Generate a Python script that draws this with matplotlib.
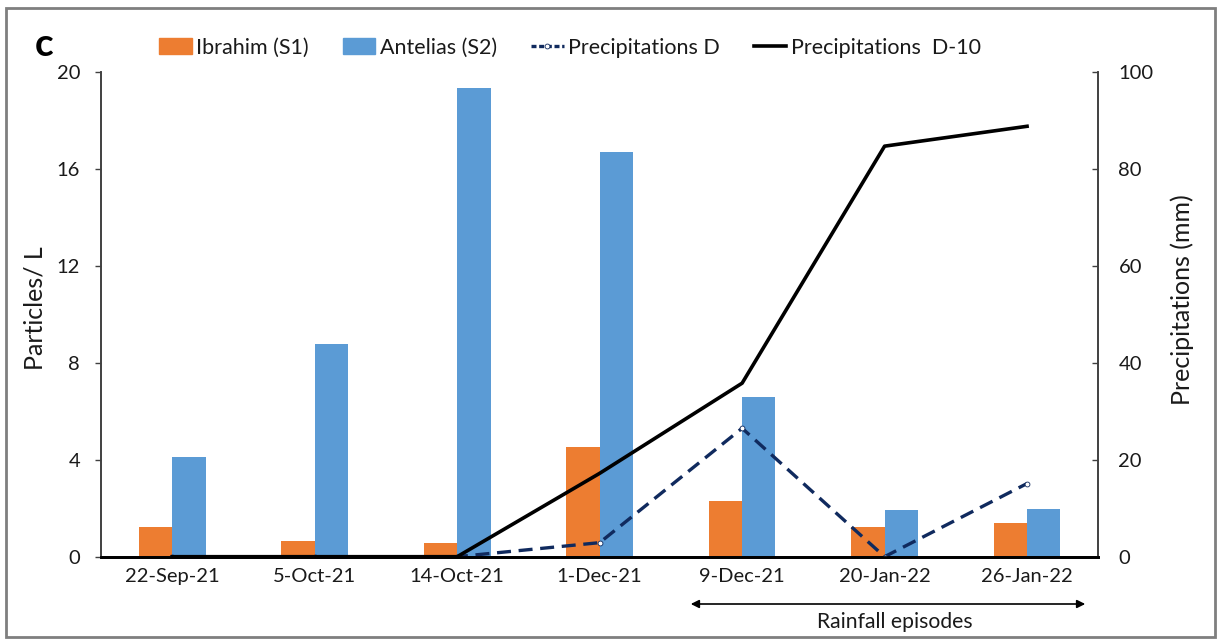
import matplotlib
matplotlib.use("Agg")
import matplotlib.pyplot as plt
from matplotlib.lines import Line2D
from matplotlib.patches import Patch, Rectangle, FancyArrowPatch
import numpy as np

plt.rcParams['font.family'] = ['Lato', 'DejaVu Sans']

dates = ["22-Sep-21", "5-Oct-21", "14-Oct-21", "1-Dec-21", "9-Dec-21", "20-Jan-22", "26-Jan-22"]
ibrahim_s1 = [1.21, 0.66, 0.55, 4.54, 2.31, 1.24, 1.40]
antelias_s2 = [4.12, 8.76, 19.36, 16.68, 6.60, 1.93, 1.97]
precip_d = [0, 0, 0, 2.9, 26.5, 0, 15.1]
precip_d10 = [0, 0, 0, 17.2, 35.8, 84.7, 88.8]

c_orange = "#ED7D31"
c_blue = "#5B9BD5"
c_navy = "#102A5E"
c_text = "#1a1a1a"
c_axis = "#404040"

W, H = 1218, 641
fig = plt.figure(figsize=(W / 100, H / 100), dpi=100)
ax = fig.add_axes([101 / W, 1 - 556.7 / H, (1098.3 - 101) / W, (556.7 - 72) / H])
ax2 = ax.twinx()

x = np.arange(len(dates))
w = 0.234
ax.bar(x - w / 2, ibrahim_s1, width=w, color=c_orange, zorder=2)
ax.bar(x + w / 2, antelias_s2, width=w, color=c_blue, zorder=2)

ax2.plot(x, precip_d, color=c_navy, lw=2.4, ls=(0, (4.2, 2.3)), marker='o', ms=3.5,
         mfc='white', mec=c_navy, mew=0.6)
ax2.plot(x, precip_d10, color='black', lw=2.6)

ax.set_xlim(-0.5, 6.5)
ax.set_ylim(0, 20)
ax2.set_ylim(0, 100)
ax.set_yticks([0, 4, 8, 12, 16, 20])
ax2.set_yticks([0, 20, 40, 60, 80, 100])
ax.set_xticks(x)
ax.set_xticklabels(dates)

ax.tick_params(axis='x', length=0, pad=8, labelsize=14.5, labelcolor=c_text)
ax.tick_params(axis='y', length=4, width=1, direction='out', pad=11, labelsize=14.5,
               colors=c_axis, labelcolor=c_text)
ax2.tick_params(axis='y', length=4, width=1, direction='in', pad=14.5, labelsize=14.5,
                colors=c_axis, labelcolor=c_text)

for a in (ax, ax2):
    a.spines['top'].set_visible(False)
    a.spines['left'].set_color(c_axis)
    a.spines['right'].set_color(c_axis)
    a.spines['left'].set_linewidth(1.2)
    a.spines['right'].set_linewidth(1.2)
    a.spines['bottom'].set_color('black')
    a.spines['bottom'].set_linewidth(2)
ax.set_zorder(1)
ax2.set_zorder(2)
ax2.patch.set_visible(False)

ax.set_ylabel("Particles/ L", fontsize=18, color=c_text, va='center')
ax.yaxis.set_label_coords(-0.0662, 0.513)
ax2.set_ylabel("Precipitations (mm)", fontsize=18, color=c_text, va='center', rotation=90)
ax2.yaxis.set_label_coords(1.084, 0.53)

handles = [
    Patch(color=c_orange),
    Patch(color=c_blue),
    Line2D([], [], color=c_navy, lw=2.4, ls=(0, (1.5, 0.8)), marker='o', ms=3.5,
           mfc='white', mec=c_navy, mew=0.6),
    Line2D([], [], color='black', lw=2.6),
]
labels = ["Ibrahim (S1)", "Antelias (S2)", "Precipitations D", "Precipitations  D-10"]
fig.legend(handles, labels, loc='center', bbox_to_anchor=(570 / W, 1 - 47.5 / H), ncol=4,
           frameon=False, fontsize=15.5, handlelength=1.5, handletextpad=0.2,
           columnspacing=1.6, handleheight=0.7, borderpad=0, labelcolor=c_text)

fig.text(35 / W, 1 - 45 / H, "c", fontsize=28, fontweight='bold', ha='left', va='center')

# span of the rainfall episodes
fig.add_artist(FancyArrowPatch(
    (688 / W, 1 - 604 / H), (1088 / W, 1 - 604 / H),
    arrowstyle='<|-|>', mutation_scale=12, lw=1.2, color='black'))
fig.text(895 / W, 1 - 622 / H, "Rainfall episodes", fontsize=15.2,
         ha='center', va='center', color=c_text)

fig.add_artist(Rectangle((6 / W, 4 / H), 1209 / W, 629 / H,
                         transform=fig.transFigure, fill=False,
                         edgecolor='#7f7f7f', lw=2))

fig.savefig("out.png", dpi=100)
